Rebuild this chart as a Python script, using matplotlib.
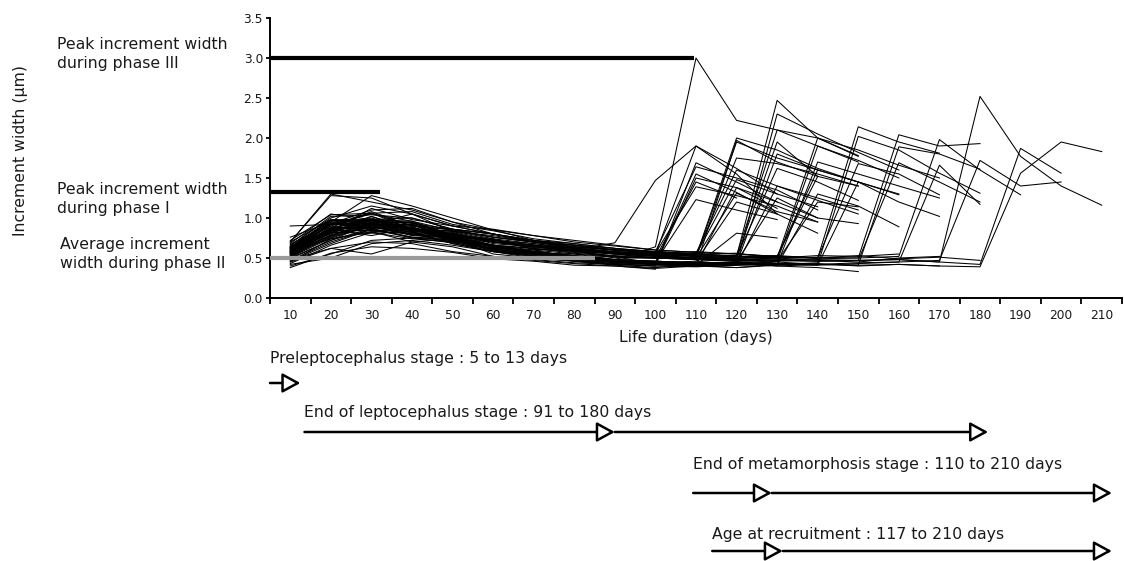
import matplotlib
matplotlib.use("Agg")

import matplotlib.pyplot as plt
from matplotlib import transforms

# ── Data ─────────────────────────────────────────────────────── #
days = [10, 20, 30, 40, 50, 60, 70, 80, 90, 100, 110,
        120, 130, 140, 150, 160, 170, 180, 190, 200, 210]

# Increment width per fish (µm), one value every 10 days from day 10.
# Grouped by the day of the metamorphosis jump.
fish_low = [
    [0.52, 0.86, 0.78, 0.88, 0.72, 0.62, 0.60, 0.50, 0.52, 0.42, 0.45, 0.50, 0.43],
    [0.63, 0.80, 1.02, 0.84, 0.80, 0.70, 0.66, 0.62, 0.56, 0.55, 0.52, 0.48, 0.50, 0.47, 0.45, 0.50, 0.52],
    [0.45, 0.74, 0.83, 0.70, 0.74, 0.55, 0.50, 0.46, 0.41, 0.38, 0.42, 0.45, 0.40, 0.38, 0.33],
    [0.70, 0.98, 0.92, 1.05, 0.83, 0.78, 0.70, 0.66, 0.60, 0.58, 0.55, 0.56, 0.50, 0.53, 0.52, 0.55],
    [0.45, 0.62, 0.70, 0.68, 0.58, 0.52, 0.47, 0.43, 0.40, 0.36],
    [0.48, 0.62, 0.55, 0.70, 0.64, 0.52, 0.48, 0.44, 0.42, 0.40, 0.41, 0.38, 0.42, 0.44],
    [0.70, 1.30, 1.20, 1.10, 0.95, 0.85, 0.78, 0.70, 0.65, 0.60, 0.57, 0.55, 0.52, 0.50, 0.53, 0.49, 0.51, 0.47],
    [0.58, 0.74, 0.82, 0.93, 0.86, 0.80, 0.72, 0.66, 0.62, 0.56, 0.58, 0.55, 0.52, 0.50],
    [0.64, 0.84, 1.12, 0.98, 0.90, 0.86, 0.78, 0.72, 0.66, 0.60, 0.57],
    [0.38, 0.56, 0.64, 0.62, 0.57, 0.49, 0.46, 0.41, 0.40, 0.37, 0.40, 0.38, 0.41, 0.43, 0.40, 0.42, 0.40],
]

fish_j100 = [
    [0.58, 0.85, 0.92, 0.86, 0.78, 0.70, 0.64, 0.60, 0.69, 1.47, 1.90, 1.55, 1.05],
]

fish_j110 = [
    [0.55, 0.90, 0.84, 0.80, 0.70, 0.66, 0.56, 0.55, 0.48, 0.64, 3.00, 2.22, 2.10, 2.00, 1.77],
    [0.62, 0.92, 1.06, 0.86, 0.84, 0.74, 0.68, 0.62, 0.58, 0.55, 1.90, 1.62, 1.30],
    [0.50, 0.72, 0.94, 0.82, 0.68, 0.58, 0.50, 0.46, 0.42, 0.40, 1.69, 1.45, 1.20],
    [0.68, 1.05, 0.98, 1.00, 0.86, 0.80, 0.72, 0.68, 0.62, 0.58, 1.64, 1.50, 1.35, 1.10],
    [0.55, 0.93, 0.88, 0.92, 0.74, 0.64, 0.56, 0.50, 0.46, 0.44, 1.55, 1.32, 1.05],
    [0.47, 0.70, 0.86, 0.76, 0.74, 0.66, 0.62, 0.56, 0.52, 0.50, 1.45, 1.25],
    [0.60, 0.88, 1.08, 0.90, 0.86, 0.76, 0.70, 0.64, 0.60, 0.56, 1.39, 1.28, 1.15, 0.95],
    [0.57, 0.78, 0.92, 0.80, 0.77, 0.63, 0.58, 0.50, 0.48, 0.45, 1.23, 1.10, 0.98],
    [0.42, 0.50, 0.68, 0.72, 0.66, 0.58, 0.52, 0.48, 0.45, 0.42, 1.50, 1.38, 1.12],
]

fish_j120 = [
    [0.63, 0.97, 0.95, 0.94, 0.78, 0.72, 0.66, 0.62, 0.57, 0.55, 0.52, 2.00, 1.85, 1.62, 1.45],
    [0.53, 0.76, 0.90, 0.79, 0.76, 0.61, 0.55, 0.48, 0.45, 0.42, 0.40, 1.97, 1.70, 1.52],
    [0.58, 0.92, 0.90, 0.92, 0.74, 0.70, 0.63, 0.60, 0.55, 0.52, 0.56, 1.60, 1.40, 1.25, 1.10],
    [0.70, 1.28, 1.25, 1.05, 0.90, 0.80, 0.72, 0.66, 0.60, 0.57, 0.54, 1.48, 1.30, 1.14],
    [0.49, 0.72, 0.87, 0.76, 0.72, 0.60, 0.53, 0.47, 0.45, 0.42, 0.41, 1.38, 1.20, 1.00],
    [0.61, 0.86, 1.00, 0.86, 0.82, 0.70, 0.66, 0.58, 0.56, 0.53, 0.50, 1.31, 1.08, 0.95],
    [0.56, 0.88, 0.86, 0.89, 0.72, 0.64, 0.56, 0.52, 0.46, 0.44, 0.46, 1.20, 1.05, 0.81],
    [0.43, 0.66, 0.82, 0.74, 0.70, 0.58, 0.56, 0.47, 0.47, 0.44, 0.41, 0.81, 0.75],
    [0.65, 1.02, 1.04, 1.00, 0.86, 0.80, 0.70, 0.66, 0.60, 0.56, 0.52, 1.75, 1.68, 1.55, 1.40],
    [0.76, 0.95, 1.28, 1.15, 1.00, 0.85, 0.72, 0.63, 0.57, 0.53, 0.50, 1.95, 1.75, 1.60],
]

fish_j130 = [
    [0.59, 0.84, 0.99, 0.84, 0.81, 0.70, 0.66, 0.60, 0.56, 0.53, 0.50, 0.52, 2.47, 2.00, 1.78],
    [0.52, 0.84, 0.84, 0.86, 0.71, 0.62, 0.54, 0.50, 0.45, 0.43, 0.41, 0.42, 2.30, 2.05, 1.82, 1.60],
    [0.64, 0.90, 1.06, 0.90, 0.85, 0.76, 0.70, 0.64, 0.60, 0.57, 0.55, 0.53, 2.10, 1.90, 1.70],
    [0.55, 0.87, 0.87, 0.88, 0.73, 0.66, 0.58, 0.53, 0.48, 0.46, 0.44, 0.43, 1.80, 1.60, 1.45, 1.30],
    [0.72, 1.04, 1.06, 1.08, 0.92, 0.84, 0.74, 0.68, 0.62, 0.58, 0.55, 0.52, 1.62, 1.45, 1.22],
    [0.46, 0.68, 0.86, 0.75, 0.72, 0.59, 0.53, 0.46, 0.43, 0.40, 0.39, 0.41, 1.40, 1.22, 1.05],
    [0.62, 0.95, 0.95, 0.94, 0.77, 0.73, 0.65, 0.60, 0.55, 0.54, 0.56, 0.50, 1.95, 1.52],
    [0.40, 0.55, 0.72, 0.75, 0.69, 0.61, 0.55, 0.50, 0.46, 0.44, 0.43, 0.45, 1.25, 1.00, 0.93],
]

fish_j140 = [
    [0.57, 0.82, 0.97, 0.84, 0.80, 0.68, 0.64, 0.58, 0.55, 0.52, 0.50, 0.48, 0.50, 2.00, 1.85, 1.66, 1.50],
    [0.66, 1.00, 1.15, 1.05, 0.90, 0.80, 0.70, 0.62, 0.55, 0.50, 0.48, 0.49, 0.46, 1.90, 1.72, 1.50],
    [0.51, 0.75, 0.90, 0.78, 0.75, 0.60, 0.53, 0.48, 0.44, 0.42, 0.40, 0.43, 0.42, 1.70, 1.55, 1.40, 1.25],
    [0.60, 0.93, 0.93, 0.92, 0.76, 0.72, 0.66, 0.62, 0.58, 0.55, 0.53, 0.50, 0.52, 1.60, 1.45, 1.29],
    [0.54, 0.78, 0.94, 0.81, 0.78, 0.63, 0.57, 0.50, 0.47, 0.45, 0.43, 0.45, 0.41, 1.30, 1.15, 0.89],
    [0.90, 0.92, 1.05, 0.96, 0.84, 0.76, 0.70, 0.64, 0.60, 0.58, 0.55, 0.52, 0.52, 1.52, 1.40],
    [0.63, 0.97, 0.97, 0.95, 0.78, 0.73, 0.61, 0.59, 0.50, 0.50, 0.48, 0.46, 0.46, 1.20, 1.14],
]

fish_j150 = [
    [0.58, 0.83, 0.98, 0.85, 0.81, 0.70, 0.66, 0.60, 0.57, 0.54, 0.52, 0.50, 0.51, 0.50, 2.14, 1.95, 1.81],
    [0.50, 0.82, 0.81, 0.83, 0.68, 0.58, 0.52, 0.47, 0.43, 0.42, 0.40, 0.42, 0.40, 0.42, 2.02, 1.85, 1.56, 1.31],
    [0.67, 0.93, 1.10, 1.12, 0.95, 0.80, 0.70, 0.64, 0.60, 0.56, 0.54, 0.52, 0.53, 0.50, 1.68, 1.55, 1.29],
    [0.56, 0.88, 0.88, 0.89, 0.73, 0.65, 0.58, 0.53, 0.48, 0.46, 0.44, 0.45, 0.43, 0.41, 1.45, 1.20, 1.02],
]

fish_j160 = [
    [0.61, 0.86, 1.02, 0.87, 0.83, 0.72, 0.68, 0.62, 0.58, 0.55, 0.53, 0.52, 0.50, 0.51, 0.50, 2.04, 1.90, 1.93],
    [0.53, 0.85, 0.84, 0.86, 0.71, 0.62, 0.55, 0.50, 0.45, 0.43, 0.42, 0.41, 0.43, 0.42, 0.41, 1.89, 1.80, 1.61],
    [0.64, 0.98, 0.98, 0.96, 0.79, 0.74, 0.61, 0.59, 0.52, 0.50, 0.49, 0.47, 0.46, 0.48, 0.47, 1.69, 1.45, 1.20],
]

fish_j170 = [
    [0.55, 0.79, 0.95, 0.82, 0.79, 0.66, 0.60, 0.55, 0.51, 0.50, 0.48, 0.47, 0.48, 0.49, 0.50, 0.52, 1.98, 1.60, 1.29],
    [0.59, 0.92, 0.91, 0.91, 0.75, 0.65, 0.58, 0.52, 0.47, 0.45, 0.43, 0.44, 0.42, 0.41, 0.43, 0.45, 1.66, 1.17],
]

fish_j180 = [
    [0.57, 0.81, 0.97, 0.83, 0.80, 0.70, 0.65, 0.60, 0.56, 0.53, 0.50, 0.48, 0.47, 0.46, 0.47, 0.48, 0.45, 2.52, 1.77, 1.40, 1.16],
    [0.62, 0.95, 0.95, 0.94, 0.77, 0.66, 0.58, 0.53, 0.48, 0.46, 0.44, 0.43, 0.45, 0.42, 0.44, 0.45, 0.47, 1.72, 1.40, 1.45],
]

fish_j190 = [
    [0.52, 0.77, 0.91, 0.79, 0.76, 0.66, 0.62, 0.57, 0.53, 0.51, 0.50, 0.49, 0.47, 0.46, 0.47, 0.48, 0.45, 0.42, 1.87, 1.56],
    [0.60, 0.93, 0.92, 0.92, 0.76, 0.64, 0.56, 0.50, 0.46, 0.44, 0.42, 0.41, 0.43, 0.42, 0.41, 0.42, 0.40, 0.39, 1.56, 1.95, 1.83],
]

# Reference levels: (value, last day covered)
peak_phase3 = (3.0, 109.5)
peak_phase1 = (1.32, 32.0)
mean_phase2 = (0.5, 85.0)

# Stages on the life-duration axis: (label, start, first arrow tip, end)
stages = [
    ("Preleptocephalus stage : 5 to 13 days", 5.0, None, 12.5),
    ("End of leptocephalus stage : 91 to 180 days", 13.5, 90.0, 182.0),
    ("End of metamorphosis stage : 110 to 210 days", 109.3, 128.7, 212.5),
    ("Age at recruitment : 117 to 210 days", 114.0, 131.4, 212.5),
]

# ── Figure ───────────────────────────────────────────────────── #
W, H = 1124, 561
TEXT = "#1a1a1a"
fig = plt.figure(figsize=(W / 100, H / 100), dpi=100, facecolor="white")
ax = fig.add_axes([270 / W, 263 / H, 852 / W, 280 / H])


def fx(px):
    return px / W


def fy(py):
    return 1 - py / H


all_fish = (fish_low + fish_j100 + fish_j110 + fish_j120 + fish_j130 +
            fish_j140 + fish_j150 + fish_j160 + fish_j170 + fish_j180 + fish_j190)
for series in all_fish:
    ax.plot(days[:len(series)], series, color="black", lw=0.75, zorder=2)

ax.plot([5, peak_phase3[1]], [peak_phase3[0]] * 2, color="black", lw=3.0,
        solid_capstyle="butt", zorder=4, clip_on=False)
ax.plot([5, peak_phase1[1]], [peak_phase1[0]] * 2, color="black", lw=3.0,
        solid_capstyle="butt", zorder=4, clip_on=False)
ax.plot([5, mean_phase2[1]], [mean_phase2[0]] * 2, color="#9a9a9a", lw=3.0,
        solid_capstyle="butt", zorder=4, clip_on=False)

# axes styling
ax.set_xlim(5, 215)
ax.set_ylim(0, 3.5)
for side in ("top", "right"):
    ax.spines[side].set_visible(False)
for side in ("left", "bottom"):
    ax.spines[side].set_linewidth(1.4)
    ax.spines[side].set_color("black")

ax.set_xticks(days)
ax.set_xticklabels([str(d) for d in days], fontsize=8.8, color=TEXT)
ax.set_xticks([5 + 10 * i for i in range(22)], minor=True)
ax.tick_params(axis="x", which="major", length=0, pad=8)
ax.tick_params(axis="x", which="minor", length=4.5, width=1.3, direction="out")
yt = [0.0, 0.5, 1.0, 1.5, 2.0, 2.5, 3.0, 3.5]
ax.set_yticks(yt)
ax.set_yticklabels([f"{v:.1f}" for v in yt], fontsize=8.8, color=TEXT)
ax.tick_params(axis="y", length=3, width=1.3, pad=2, direction="out")

ax.set_xlabel("Life duration (days)", fontsize=11.3, color=TEXT, labelpad=6)

fig.text(fx(20), fy(150), "Increment width (µm)", rotation=90, fontsize=11.3,
         color=TEXT, ha="center", va="center")

side_notes = [
    (57, 37, "Peak increment width\nduring phase III"),
    (57, 182, "Peak increment width\nduring phase I"),
    (60, 237, "Average increment\nwidth during phase II"),
]
for px, py, txt in side_notes:
    fig.text(fx(px), fy(py), txt, fontsize=11.3, color=TEXT, ha="left",
             va="top", linespacing=1.3)

# stage arrows below the axis
trans = transforms.blended_transform_factory(ax.transData, fig.transFigure)
text_rows = [358, 413, 465, 534]
line_rows = [383, 432, 493, 551]


def stage_arrow(x0, x1, y):
    ax.annotate("", xy=(x1, y), xytext=(x0, y), xycoords=trans,
                textcoords=trans, annotation_clip=False,
                arrowprops=dict(arrowstyle="-|>,head_length=11,head_width=6",
                                mutation_scale=1, lw=1.8, color="black",
                                fc="white", shrinkA=0, shrinkB=0))


for (label, start, mid, end), ty, ly in zip(stages, text_rows, line_rows):
    ax.text(start, fy(ty), label, transform=trans, fontsize=11.3, color=TEXT,
            ha="left", va="center", clip_on=False)
    if mid is None:
        stage_arrow(start, end, fy(ly))
    else:
        stage_arrow(start, mid, fy(ly))
        stage_arrow(mid, end, fy(ly))

fig.savefig("out.png", dpi=100, facecolor="white")
